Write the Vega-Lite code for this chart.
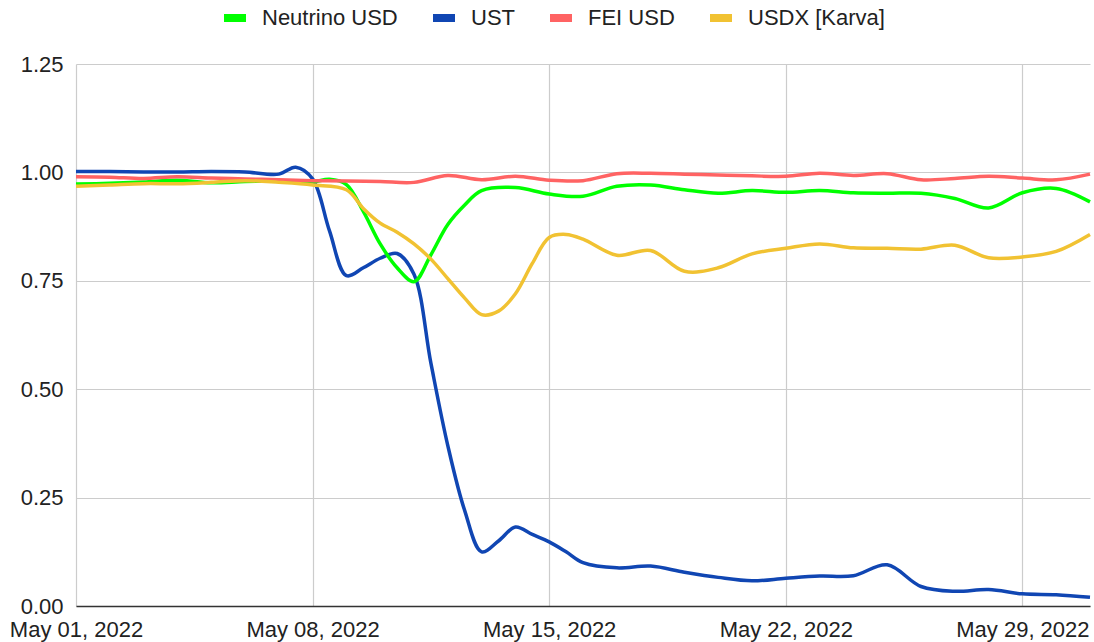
{
  "$schema": "https://vega.github.io/schema/vega-lite/v6.json",
  "width": 1014,
  "height": 542,
  "autosize": {"type": "none"},
  "padding": {"left": 76, "top": 64, "right": 4, "bottom": 36},
  "background": "white",
  "config": {"view": {"stroke": null}, "font": "Liberation Sans"},
  "data": {"values": [
    {"date": "2022-05-01T00:00Z", "series": "UST", "value": 1.002},
    {"date": "2022-05-02T00:00Z", "series": "UST", "value": 1.002},
    {"date": "2022-05-03T00:00Z", "series": "UST", "value": 1.001},
    {"date": "2022-05-04T00:00Z", "series": "UST", "value": 1.001},
    {"date": "2022-05-05T00:00Z", "series": "UST", "value": 1.002},
    {"date": "2022-05-06T00:00Z", "series": "UST", "value": 1.001},
    {"date": "2022-05-07T00:00Z", "series": "UST", "value": 0.996},
    {"date": "2022-05-07T12:00Z", "series": "UST", "value": 1.012},
    {"date": "2022-05-08T00:00Z", "series": "UST", "value": 0.985},
    {"date": "2022-05-08T12:00Z", "series": "UST", "value": 0.865},
    {"date": "2022-05-09T00:00Z", "series": "UST", "value": 0.762},
    {"date": "2022-05-09T12:00Z", "series": "UST", "value": 0.78},
    {"date": "2022-05-10T00:00Z", "series": "UST", "value": 0.802},
    {"date": "2022-05-10T12:00Z", "series": "UST", "value": 0.813},
    {"date": "2022-05-11T00:00Z", "series": "UST", "value": 0.765},
    {"date": "2022-05-11T12:00Z", "series": "UST", "value": 0.56},
    {"date": "2022-05-12T00:00Z", "series": "UST", "value": 0.37},
    {"date": "2022-05-12T12:00Z", "series": "UST", "value": 0.22},
    {"date": "2022-05-13T00:00Z", "series": "UST", "value": 0.125},
    {"date": "2022-05-13T12:00Z", "series": "UST", "value": 0.15},
    {"date": "2022-05-14T00:00Z", "series": "UST", "value": 0.182},
    {"date": "2022-05-14T12:00Z", "series": "UST", "value": 0.165},
    {"date": "2022-05-15T00:00Z", "series": "UST", "value": 0.148},
    {"date": "2022-05-15T12:00Z", "series": "UST", "value": 0.125},
    {"date": "2022-05-16T00:00Z", "series": "UST", "value": 0.1},
    {"date": "2022-05-17T00:00Z", "series": "UST", "value": 0.088},
    {"date": "2022-05-18T00:00Z", "series": "UST", "value": 0.092},
    {"date": "2022-05-19T00:00Z", "series": "UST", "value": 0.078},
    {"date": "2022-05-20T00:00Z", "series": "UST", "value": 0.066},
    {"date": "2022-05-21T00:00Z", "series": "UST", "value": 0.058},
    {"date": "2022-05-22T00:00Z", "series": "UST", "value": 0.064},
    {"date": "2022-05-23T00:00Z", "series": "UST", "value": 0.069},
    {"date": "2022-05-24T00:00Z", "series": "UST", "value": 0.07},
    {"date": "2022-05-25T00:00Z", "series": "UST", "value": 0.095},
    {"date": "2022-05-26T00:00Z", "series": "UST", "value": 0.045},
    {"date": "2022-05-27T00:00Z", "series": "UST", "value": 0.034},
    {"date": "2022-05-28T00:00Z", "series": "UST", "value": 0.038},
    {"date": "2022-05-29T00:00Z", "series": "UST", "value": 0.028},
    {"date": "2022-05-30T00:00Z", "series": "UST", "value": 0.026},
    {"date": "2022-05-31T00:00Z", "series": "UST", "value": 0.02},

    {"date": "2022-05-01T00:00Z", "series": "Neutrino USD", "value": 0.973},
    {"date": "2022-05-02T00:00Z", "series": "Neutrino USD", "value": 0.975},
    {"date": "2022-05-03T00:00Z", "series": "Neutrino USD", "value": 0.978},
    {"date": "2022-05-04T00:00Z", "series": "Neutrino USD", "value": 0.982},
    {"date": "2022-05-05T00:00Z", "series": "Neutrino USD", "value": 0.976},
    {"date": "2022-05-06T00:00Z", "series": "Neutrino USD", "value": 0.979},
    {"date": "2022-05-07T00:00Z", "series": "Neutrino USD", "value": 0.98},
    {"date": "2022-05-08T00:00Z", "series": "Neutrino USD", "value": 0.978},
    {"date": "2022-05-08T12:00Z", "series": "Neutrino USD", "value": 0.984},
    {"date": "2022-05-09T00:00Z", "series": "Neutrino USD", "value": 0.972},
    {"date": "2022-05-09T12:00Z", "series": "Neutrino USD", "value": 0.91},
    {"date": "2022-05-10T00:00Z", "series": "Neutrino USD", "value": 0.835},
    {"date": "2022-05-10T12:00Z", "series": "Neutrino USD", "value": 0.78},
    {"date": "2022-05-11T00:00Z", "series": "Neutrino USD", "value": 0.748},
    {"date": "2022-05-11T12:00Z", "series": "Neutrino USD", "value": 0.81},
    {"date": "2022-05-12T00:00Z", "series": "Neutrino USD", "value": 0.88},
    {"date": "2022-05-12T12:00Z", "series": "Neutrino USD", "value": 0.925},
    {"date": "2022-05-13T00:00Z", "series": "Neutrino USD", "value": 0.958},
    {"date": "2022-05-14T00:00Z", "series": "Neutrino USD", "value": 0.965},
    {"date": "2022-05-15T00:00Z", "series": "Neutrino USD", "value": 0.95},
    {"date": "2022-05-16T00:00Z", "series": "Neutrino USD", "value": 0.945},
    {"date": "2022-05-17T00:00Z", "series": "Neutrino USD", "value": 0.968},
    {"date": "2022-05-18T00:00Z", "series": "Neutrino USD", "value": 0.971},
    {"date": "2022-05-19T00:00Z", "series": "Neutrino USD", "value": 0.96},
    {"date": "2022-05-20T00:00Z", "series": "Neutrino USD", "value": 0.952},
    {"date": "2022-05-21T00:00Z", "series": "Neutrino USD", "value": 0.958},
    {"date": "2022-05-22T00:00Z", "series": "Neutrino USD", "value": 0.954},
    {"date": "2022-05-23T00:00Z", "series": "Neutrino USD", "value": 0.958},
    {"date": "2022-05-24T00:00Z", "series": "Neutrino USD", "value": 0.953},
    {"date": "2022-05-25T00:00Z", "series": "Neutrino USD", "value": 0.952},
    {"date": "2022-05-26T00:00Z", "series": "Neutrino USD", "value": 0.952},
    {"date": "2022-05-27T00:00Z", "series": "Neutrino USD", "value": 0.94},
    {"date": "2022-05-28T00:00Z", "series": "Neutrino USD", "value": 0.918},
    {"date": "2022-05-29T00:00Z", "series": "Neutrino USD", "value": 0.953},
    {"date": "2022-05-30T00:00Z", "series": "Neutrino USD", "value": 0.963},
    {"date": "2022-05-31T00:00Z", "series": "Neutrino USD", "value": 0.932},

    {"date": "2022-05-01T00:00Z", "series": "FEI USD", "value": 0.99},
    {"date": "2022-05-02T00:00Z", "series": "FEI USD", "value": 0.989},
    {"date": "2022-05-03T00:00Z", "series": "FEI USD", "value": 0.986},
    {"date": "2022-05-04T00:00Z", "series": "FEI USD", "value": 0.99},
    {"date": "2022-05-05T00:00Z", "series": "FEI USD", "value": 0.987},
    {"date": "2022-05-06T00:00Z", "series": "FEI USD", "value": 0.985},
    {"date": "2022-05-07T00:00Z", "series": "FEI USD", "value": 0.983},
    {"date": "2022-05-08T00:00Z", "series": "FEI USD", "value": 0.981},
    {"date": "2022-05-09T00:00Z", "series": "FEI USD", "value": 0.98},
    {"date": "2022-05-10T00:00Z", "series": "FEI USD", "value": 0.979},
    {"date": "2022-05-11T00:00Z", "series": "FEI USD", "value": 0.977},
    {"date": "2022-05-12T00:00Z", "series": "FEI USD", "value": 0.993},
    {"date": "2022-05-13T00:00Z", "series": "FEI USD", "value": 0.983},
    {"date": "2022-05-14T00:00Z", "series": "FEI USD", "value": 0.991},
    {"date": "2022-05-15T00:00Z", "series": "FEI USD", "value": 0.982},
    {"date": "2022-05-16T00:00Z", "series": "FEI USD", "value": 0.981},
    {"date": "2022-05-17T00:00Z", "series": "FEI USD", "value": 0.997},
    {"date": "2022-05-18T00:00Z", "series": "FEI USD", "value": 0.998},
    {"date": "2022-05-19T00:00Z", "series": "FEI USD", "value": 0.996},
    {"date": "2022-05-20T00:00Z", "series": "FEI USD", "value": 0.994},
    {"date": "2022-05-21T00:00Z", "series": "FEI USD", "value": 0.992},
    {"date": "2022-05-22T00:00Z", "series": "FEI USD", "value": 0.991},
    {"date": "2022-05-23T00:00Z", "series": "FEI USD", "value": 0.998},
    {"date": "2022-05-24T00:00Z", "series": "FEI USD", "value": 0.993},
    {"date": "2022-05-25T00:00Z", "series": "FEI USD", "value": 0.997},
    {"date": "2022-05-26T00:00Z", "series": "FEI USD", "value": 0.983},
    {"date": "2022-05-27T00:00Z", "series": "FEI USD", "value": 0.986},
    {"date": "2022-05-28T00:00Z", "series": "FEI USD", "value": 0.991},
    {"date": "2022-05-29T00:00Z", "series": "FEI USD", "value": 0.987},
    {"date": "2022-05-30T00:00Z", "series": "FEI USD", "value": 0.983},
    {"date": "2022-05-31T00:00Z", "series": "FEI USD", "value": 0.996},

    {"date": "2022-05-01T00:00Z", "series": "USDX [Karva]", "value": 0.968},
    {"date": "2022-05-02T00:00Z", "series": "USDX [Karva]", "value": 0.971},
    {"date": "2022-05-03T00:00Z", "series": "USDX [Karva]", "value": 0.974},
    {"date": "2022-05-04T00:00Z", "series": "USDX [Karva]", "value": 0.974},
    {"date": "2022-05-05T00:00Z", "series": "USDX [Karva]", "value": 0.977},
    {"date": "2022-05-06T00:00Z", "series": "USDX [Karva]", "value": 0.981},
    {"date": "2022-05-07T00:00Z", "series": "USDX [Karva]", "value": 0.977},
    {"date": "2022-05-08T00:00Z", "series": "USDX [Karva]", "value": 0.971},
    {"date": "2022-05-09T00:00Z", "series": "USDX [Karva]", "value": 0.96},
    {"date": "2022-05-09T12:00Z", "series": "USDX [Karva]", "value": 0.917},
    {"date": "2022-05-10T00:00Z", "series": "USDX [Karva]", "value": 0.883},
    {"date": "2022-05-10T12:00Z", "series": "USDX [Karva]", "value": 0.862},
    {"date": "2022-05-11T00:00Z", "series": "USDX [Karva]", "value": 0.835},
    {"date": "2022-05-11T12:00Z", "series": "USDX [Karva]", "value": 0.8},
    {"date": "2022-05-12T00:00Z", "series": "USDX [Karva]", "value": 0.755},
    {"date": "2022-05-12T12:00Z", "series": "USDX [Karva]", "value": 0.71},
    {"date": "2022-05-13T00:00Z", "series": "USDX [Karva]", "value": 0.672},
    {"date": "2022-05-13T12:00Z", "series": "USDX [Karva]", "value": 0.68},
    {"date": "2022-05-14T00:00Z", "series": "USDX [Karva]", "value": 0.72},
    {"date": "2022-05-14T12:00Z", "series": "USDX [Karva]", "value": 0.79},
    {"date": "2022-05-15T00:00Z", "series": "USDX [Karva]", "value": 0.85},
    {"date": "2022-05-15T12:00Z", "series": "USDX [Karva]", "value": 0.857},
    {"date": "2022-05-16T00:00Z", "series": "USDX [Karva]", "value": 0.846},
    {"date": "2022-05-17T00:00Z", "series": "USDX [Karva]", "value": 0.809},
    {"date": "2022-05-18T00:00Z", "series": "USDX [Karva]", "value": 0.82},
    {"date": "2022-05-19T00:00Z", "series": "USDX [Karva]", "value": 0.772},
    {"date": "2022-05-20T00:00Z", "series": "USDX [Karva]", "value": 0.78},
    {"date": "2022-05-21T00:00Z", "series": "USDX [Karva]", "value": 0.812},
    {"date": "2022-05-22T00:00Z", "series": "USDX [Karva]", "value": 0.825},
    {"date": "2022-05-23T00:00Z", "series": "USDX [Karva]", "value": 0.835},
    {"date": "2022-05-24T00:00Z", "series": "USDX [Karva]", "value": 0.826},
    {"date": "2022-05-25T00:00Z", "series": "USDX [Karva]", "value": 0.825},
    {"date": "2022-05-26T00:00Z", "series": "USDX [Karva]", "value": 0.823},
    {"date": "2022-05-27T00:00Z", "series": "USDX [Karva]", "value": 0.832},
    {"date": "2022-05-28T00:00Z", "series": "USDX [Karva]", "value": 0.803},
    {"date": "2022-05-29T00:00Z", "series": "USDX [Karva]", "value": 0.805},
    {"date": "2022-05-30T00:00Z", "series": "USDX [Karva]", "value": 0.818},
    {"date": "2022-05-31T00:00Z", "series": "USDX [Karva]", "value": 0.857}
  ]},
  "mark": {"type": "line", "interpolate": "catmull-rom", "strokeWidth": 3.5},
  "encoding": {
    "x": {
      "field": "date",
      "type": "temporal",
      "scale": {
        "type": "utc",
        "domain": [
          {"year": 2022, "month": 5, "date": 1, "utc": true},
          {"year": 2022, "month": 5, "date": 31, "utc": true}
        ]
      },
      "axis": {
        "title": null,
        "values": [
          {"year": 2022, "month": 5, "date": 1, "utc": true},
          {"year": 2022, "month": 5, "date": 8, "utc": true},
          {"year": 2022, "month": 5, "date": 15, "utc": true},
          {"year": 2022, "month": 5, "date": 22, "utc": true},
          {"year": 2022, "month": 5, "date": 29, "utc": true}
        ],
        "format": "%b %d, %Y",
        "grid": true,
        "gridColor": "#cccccc",
        "gridWidth": 1.2,
        "ticks": false,
        "domainColor": "#333333",
        "domainWidth": 1.5,
        "labelFontSize": 22,
        "labelColor": "#222222",
        "labelPadding": 13,
        "labelFlush": false,
        "labelOverlap": false
      }
    },
    "y": {
      "field": "value",
      "type": "quantitative",
      "scale": {"domain": [0, 1.25], "nice": false, "zero": true},
      "axis": {
        "title": null,
        "values": [0, 0.25, 0.5, 0.75, 1, 1.25],
        "format": ".2f",
        "domain": false,
        "ticks": false,
        "gridColor": "#cccccc",
        "gridWidth": 1.2,
        "labelFontSize": 22,
        "labelColor": "#222222",
        "labelPadding": 13
      }
    },
    "color": {
      "field": "series",
      "type": "nominal",
      "scale": {
        "domain": ["Neutrino USD", "UST", "FEI USD", "USDX [Karva]"],
        "range": ["#00ff00", "#1046b3", "#ff6363", "#f1c232"]
      },
      "legend": {
        "title": null,
        "orient": "none",
        "direction": "horizontal",
        "legendX": 144,
        "legendY": -61,
        "padding": 0,
        "symbolType": "stroke",
        "symbolSize": 484,
        "symbolStrokeWidth": 8,
        "labelFontSize": 22,
        "labelColor": "#222222",
        "labelOffset": 12,
        "columnPadding": 19,
        "labelLimit": 400
      }
    }
  }
}
